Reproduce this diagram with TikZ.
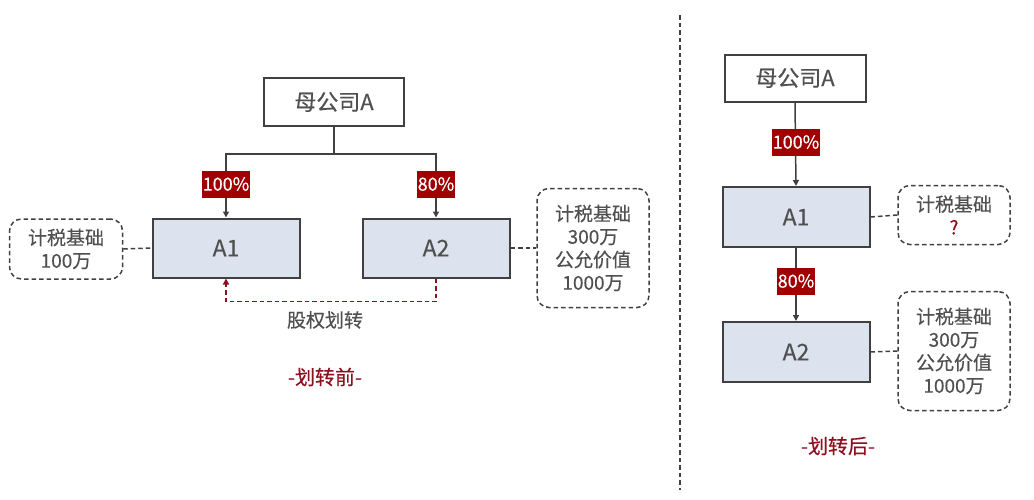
\documentclass[tikz,border=0pt]{standalone}
\usepackage{fontspec}
\setmainfont{Noto Sans CJK SC}[FakeBold=0.4]
\usepackage{xcolor}
\usetikzlibrary{positioning,arrows.meta}
\definecolor{boxfill}{RGB}{220,227,238}
\definecolor{edgegray}{RGB}{64,64,64}
\definecolor{txtgray}{RGB}{80,80,80}
\definecolor{tagred}{RGB}{160,0,0}
\definecolor{movered}{RGB}{140,16,30}

\begin{document}
\begin{tikzpicture}[x=1pt, y=-1pt,
    parent/.style={draw=edgegray, line width=2pt, fill=white, minimum width=140pt,
                   minimum height=48pt, inner sep=0pt, text=txtgray, font=\fontsize{22}{24}\selectfont},
    sub/.style={draw=edgegray, line width=2pt, fill=boxfill, minimum width=147pt,
                minimum height=59pt, inner sep=0pt, text=txtgray, font=\fontsize{23}{25}\selectfont},
    note/.style={draw=edgegray, dash pattern=on 4.5pt off 3pt, line width=1.5pt, rounded corners=12pt,
                 align=center, inner sep=0pt, text=txtgray, font=\fontsize{19}{23}\selectfont},
    tag/.style={fill=tagred, text=white, inner sep=1pt, minimum height=27pt, font=\fontsize{18}{20}\selectfont},
    conn/.style={draw=edgegray, line width=1.5pt},
    arr/.style={conn, -{Triangle[length=6pt, width=6pt]}},
    link/.style={draw=edgegray, dash pattern=on 4.5pt off 3pt, line width=1.5pt},
    title/.style={text=movered, font=\fontsize{20}{22}\selectfont}]
  \useasboundingbox (0,0) rectangle (1034,499);

  % before the transfer
  \node[parent] (ma) at (334,102) {母公司A};
  \node[sub] (a1) at (226,248) {A1};
  \node[sub] (a2) at (436,248) {A2};
  \node[note, minimum width=113pt, minimum height=60pt] (na1) at (66,249) {计税基础\\100万};
  \node[note, minimum width=112pt, minimum height=119pt] (na2) at (593,248) {计税基础\\300万\\公允价值\\1000万};
  \coordinate (br) at (334,154);
  \draw[conn] (ma.south) -- (br);
  \draw[arr] (br) -| (a1.north);
  \draw[arr] (br) -| (a2.north);
  \node[tag] (t1) at (226,184) {100\%};
  \node[tag] (t2) at (436,184) {80\%};
  \draw[link] (na1.east) -- (a1.west);
  \draw[link] (a2.east) -- (na2.west);
  \draw[draw=movered, dash pattern=on 4.5pt off 3pt, line width=1.5pt, -{Triangle[length=6pt, width=6pt]}]
    (a2.south) -- ++(0,23) -| (a1.south);
  \node[text=txtgray, font=\fontsize{19}{21}\selectfont] (mv) at (325,320) {股权划转};
  \node[title] (before) at (325,377) {-划转前-};

  % divider
  \coordinate (d1) at (680,15);
  \coordinate (d2) at (680,490);
  \draw[edgegray, dash pattern=on 4.5pt off 3pt, line width=1.5pt] (d1) -- (d2);

  % after the transfer
  \node[parent, minimum width=141pt, minimum height=47pt] (mb) at (795,78) {母公司A};
  \node[sub, minimum height=60pt] (b1) at (796,217) {A1};
  \node[sub, minimum height=60pt] (b2) at (796,352) {A2};
  \node[note, minimum width=112pt, minimum height=59pt] (nb1) at (954,215) {计税基础\\\textcolor{movered}{?}};
  \node[note, minimum width=112pt, minimum height=119pt] (nb2) at (954,351) {计税基础\\300万\\公允价值\\1000万};
  \draw[arr] (mb.south) -- (b1.north);
  \draw[arr] (b1.south) -- (b2.north);
  \node[tag] (t3) at (796,142) {100\%};
  \node[tag] (t4) at (796,281) {80\%};
  \draw[link] (b1.east) -- (nb1.west);
  \draw[link] (b2.east) -- (nb2.west);
  \node[title] (after) at (838,446) {-划转后-};
\end{tikzpicture}
\end{document}
